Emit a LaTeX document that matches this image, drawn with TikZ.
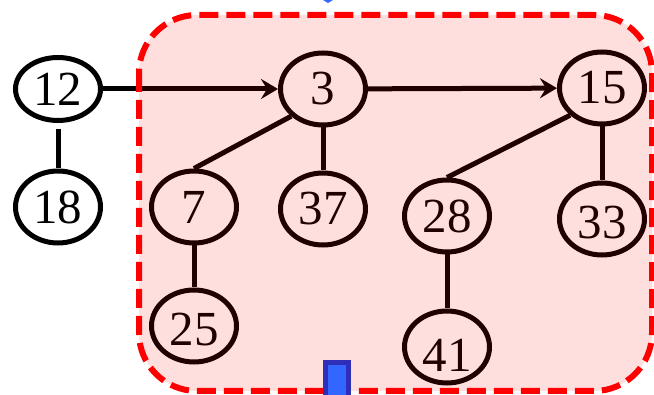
\documentclass[tikz,border=0pt]{standalone}
\usepackage{fontspec}
\setmainfont{Liberation Serif}
\usepackage{xcolor}
\usepackage{tikz}
\usetikzlibrary{shapes.geometric, arrows.meta, positioning}
\definecolor{heapred}{RGB}{255, 0, 0}
\definecolor{markblue}{RGB}{51, 102, 255}
\definecolor{markborder}{RGB}{46, 46, 184}
\tikzstyle{heapnode} = [
    ellipse,
    minimum width=85pt,
    minimum height=72pt,
    inner sep=0pt,
    draw=black,
    line width=5pt,
    font=\fontsize{49}{52}\selectfont
]
\tikzstyle{link} = [
    line width=5pt,
    draw=black
]
\tikzstyle{arrow} = [
    line width=5pt,
    -{Stealth[length=17pt, width=20pt, inset=6pt]},
    color=black
]

\begin{document}
\begin{tikzpicture}[x=1pt, y=-1pt]
        \useasboundingbox (0, 0) rectangle (654, 395);

        % Left tree
        \node[heapnode, minimum height=63pt] (n12) at (58, 89) {12};
        \node[heapnode] (n18) at (58, 207) {18};

        % Root 3
        \node[heapnode] (n3) at (323, 89) {3};
        \node[heapnode] (n7) at (194, 207) {7};
        \node[heapnode] (n37) at (323, 209) {37};
        \node[heapnode, text height=40pt, text depth=0pt] (n25) at (194, 326) {25};

        % Root 15
        \node[heapnode] (n15) at (602, 88) {15};
        \node[heapnode] (n28) at (447, 216) {28};
        \node[heapnode, text height=40pt, text depth=0pt] (n33) at (602, 219) {33};
        \node[heapnode, text height=49pt, text depth=0pt] (n41) at (447, 347) {41};

        % Links
        \draw[link, shorten <=6pt] (n12) -- (n18);
        \draw[arrow] (n12) -- (n3);
        \draw[arrow] (n3) -- (n15);
        \draw[link] (n3.south west) -- (n7.north);
        \draw[link] (n3) -- (n37);
        \draw[link] (n7) -- (n25);
        \draw[link] (n15.south west) -- (n28.north);
        \draw[link] (n15) -- (n33);
        \draw[link] (n28) -- (n41);

        % Marked region
        \fill[heapred, fill opacity=0.13, rounded corners=58pt] (139, 15) rectangle (652, 391);
        \draw[heapred, line width=6pt, dash pattern=on 19pt off 8pt, rounded corners=58pt] (139, 15) rectangle (652, 391);

        % Blue marks
        \draw[markborder, fill=markblue, line width=5pt] (325.5, 362.5) rectangle (348.5, 400);
        \fill[markblue] (323, 0) -- (333, 0) -- (328, 3) -- cycle;
    \end{tikzpicture}
\end{document}
